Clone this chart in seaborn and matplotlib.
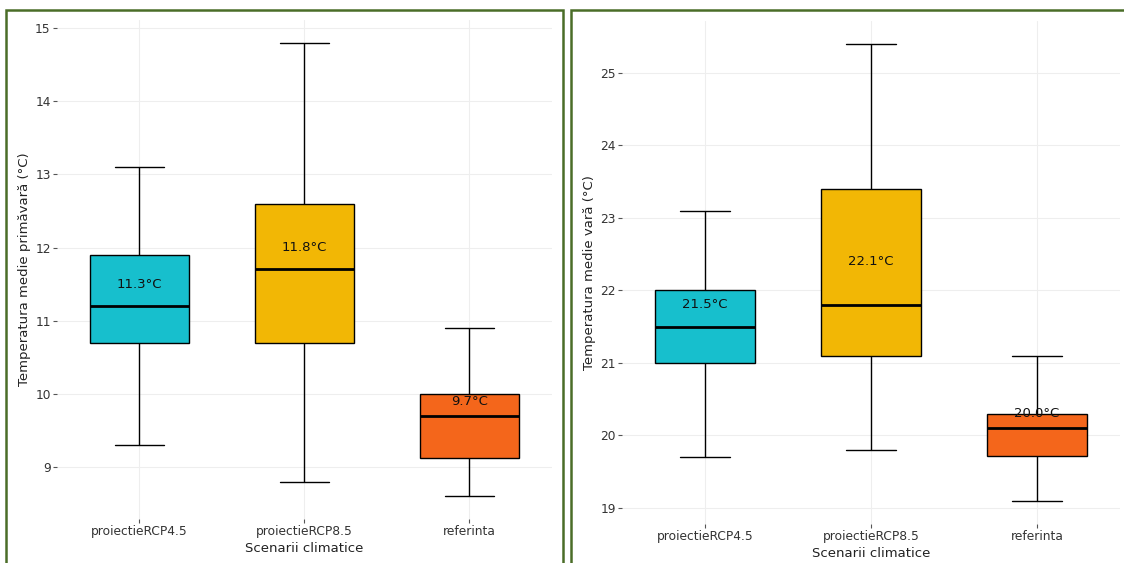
import matplotlib
matplotlib.use("Agg")
import matplotlib.pyplot as plt
from matplotlib.patches import Rectangle
import numpy as np
import pandas as pd
import seaborn as sns

# Scenarios
scenarios = ["proiectieRCP4.5", "proiectieRCP8.5", "referinta"]
colors = ["#17bfcd", "#f2b705", "#f4661b"]

# Spring mean temperature (°C): five-number summaries per scenario
spring_min = [9.3, 8.8, 8.6]
spring_q1 = [10.7, 10.7, 9.12]
spring_median = [11.2, 11.7, 9.7]
spring_q3 = [11.9, 12.6, 10.0]
spring_max = [13.1, 14.8, 10.9]
spring_mean = [11.3, 11.8, 9.7]

# Summer mean temperature (°C)
summer_min = [19.7, 19.8, 19.1]
summer_q1 = [21.0, 21.1, 19.72]
summer_median = [21.5, 21.8, 20.1]
summer_q3 = [22.0, 23.4, 20.3]
summer_max = [23.1, 25.4, 21.1]
summer_mean = [21.5, 22.1, 20.0]


def summary_frame(mins, q1s, meds, q3s, maxs):
    rows = []
    for name, lo, a, m, b, hi in zip(scenarios, mins, q1s, meds, q3s, maxs):
        for v in (lo, a, m, b, hi):
            rows.append({"Scenariu": name, "Temperatura": v})
    return pd.DataFrame(rows)


sns.set_theme(style="white")
plt.rcParams["font.family"] = ["DejaVu Sans"]

fig = plt.figure(figsize=(11.24, 5.63), dpi=100)
fig.patch.set_facecolor("white")

panels = [
    dict(rect=[0.0507, 0.0782, 0.4404, 0.8863],
         data=summary_frame(spring_min, spring_q1, spring_median, spring_q3, spring_max),
         means=spring_mean, ylabel="Temperatura medie primăvară (°C)",
         yticks=[9, 10, 11, 12, 13, 14, 15], offset=0.2),
    dict(rect=[0.5534, 0.0700, 0.443, 0.8927],
         data=summary_frame(summer_min, summer_q1, summer_median, summer_q3, summer_max),
         means=summer_mean, ylabel="Temperatura medie vară (°C)",
         yticks=[19, 20, 21, 22, 23, 24, 25], offset=0.3),
]

for p in panels:
    ax = fig.add_axes(p["rect"])
    sns.boxplot(data=p["data"], x="Scenariu", y="Temperatura", hue="Scenariu",
                palette=colors, order=scenarios, hue_order=scenarios,
                saturation=1, width=0.6, whis=(0, 100), linecolor="black",
                linewidth=1.0, medianprops=dict(color="black", linewidth=2.0),
                legend=False, ax=ax, zorder=3)
    for i, m in enumerate(p["means"]):
        ax.text(i, m + p["offset"], f"{m:.1f}°C", ha="center", va="center",
                fontsize=9.5, color="#111111", zorder=5)
    ax.set_xlim(-0.5, 2.5)
    ax.set_yticks(p["yticks"])
    ax.set_xlabel("Scenarii climatice", fontsize=9.5, color="#222222", labelpad=3)
    ax.set_ylabel(p["ylabel"], fontsize=9.5, color="#222222", labelpad=3)
    ax.grid(True, color="#eeeeee", linewidth=0.8, zorder=0)
    ax.set_axisbelow(True)
    for s in ax.spines.values():
        s.set_visible(False)
    ax.tick_params(axis="both", which="major", labelsize=8.8, length=3,
                   width=0.8, color="#555555", labelcolor="#333333", pad=1.5,
                   left=True, bottom=True)

# Dark green frames around each panel
frame_color = "#4a6d28"
fig.add_artist(Rectangle((6 / 1124, -0.05), (563 - 6) / 1124, 1.05 - 10 / 563,
                         transform=fig.transFigure, fill=False,
                         edgecolor=frame_color, linewidth=1.8))
fig.add_artist(Rectangle((571 / 1124, -0.05), 0.6, 1.05 - 10 / 563,
                         transform=fig.transFigure, fill=False,
                         edgecolor=frame_color, linewidth=1.8))

fig.savefig("out.png", dpi=100)
